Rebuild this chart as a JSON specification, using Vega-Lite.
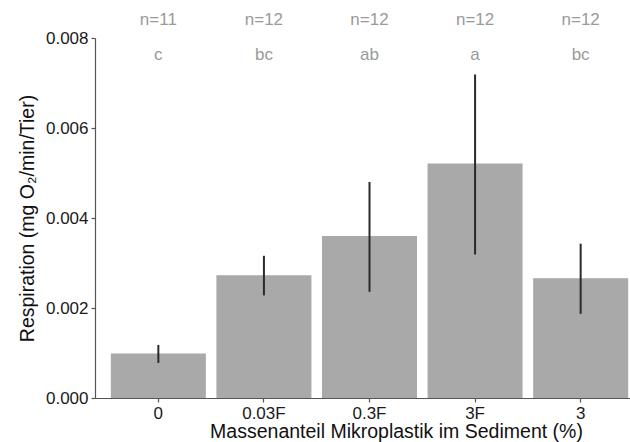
{
  "$schema": "https://vega.github.io/schema/vega-lite/v6.json",
  "autosize": "none",
  "padding": {"left": 95, "top": 38, "right": 0, "bottom": 44},
  "width": 549,
  "height": 360,
  "config": {
    "view": {"stroke": null},
    "font": "Liberation Sans",
    "axis": {"grid": false, "domainColor": "#555555", "tickColor": "#555555", "domainWidth": 1.2, "tickWidth": 1.2, "tickSize": 4, "labelColor": "#1a1a1a", "labelFontSize": 17, "labelFont": "Liberation Sans", "titleFont": "Liberation Sans", "titleFontWeight": "normal", "titleFontSize": 19.5, "titleColor": "#111111"}
  },
  "data": {
    "values": [
      {"gruppe": "0", "mean": 0.00099, "lo": 0.00078, "hi": 0.00118, "n": "n=11", "sig": "c"},
      {"gruppe": "0.03F", "mean": 0.00273, "lo": 0.00228, "hi": 0.00316, "n": "n=12", "sig": "bc"},
      {"gruppe": "0.3F", "mean": 0.0036, "lo": 0.00236, "hi": 0.0048, "n": "n=12", "sig": "ab"},
      {"gruppe": "3F", "mean": 0.00521, "lo": 0.00319, "hi": 0.00719, "n": "n=12", "sig": "a"},
      {"gruppe": "3", "mean": 0.00266, "lo": 0.00187, "hi": 0.00343, "n": "n=12", "sig": "bc"}
    ]
  },
  "encoding": {
    "x": {
      "field": "gruppe", "type": "nominal", "sort": null,
      "scale": {"paddingInner": 0.1, "paddingOuter": 0.15},
      "axis": {"title": "Massenanteil  Mikroplastik  im  Sediment  (%)", "labelAngle": 0, "labelPadding": 3, "titleX": 301, "titleY": 39, "titleBaseline": "alphabetic", "titleAlign": "center", "titleAnchor": null}
    }
  },
  "layer": [
    {
      "mark": {"type": "bar", "color": "#a9a9a9"},
      "encoding": {
        "y": {
          "field": "mean", "type": "quantitative",
          "scale": {"domain": [0, 0.008], "nice": false, "zero": true},
          "axis": {"title": "Respiration  (mg O₂/min/Tier)", "values": [0, 0.002, 0.004, 0.006, 0.008], "format": ".3f", "labelPadding": 3, "titlePadding": 8}
        }
      }
    },
    {
      "mark": {"type": "rule", "color": "#2a2a2a", "strokeWidth": 2},
      "encoding": {
        "y": {"field": "lo", "type": "quantitative"},
        "y2": {"field": "hi"}
      }
    },
    {
      "mark": {"type": "text", "color": "#9a9a9a", "fontSize": 17, "baseline": "middle"},
      "encoding": {
        "y": {"datum": 0.00839, "type": "quantitative"},
        "text": {"field": "n"}
      }
    },
    {
      "mark": {"type": "text", "color": "#9a9a9a", "fontSize": 17, "baseline": "middle"},
      "encoding": {
        "y": {"datum": 0.00763, "type": "quantitative"},
        "text": {"field": "sig"}
      }
    }
  ]
}
